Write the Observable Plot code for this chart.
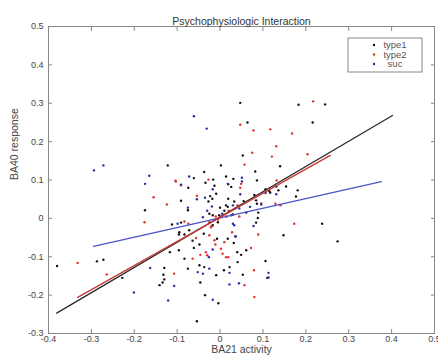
<!DOCTYPE html>
<html>
<head>
<meta charset="utf-8">
<script src="https://cdn.jsdelivr.net/npm/d3@7"></script>
<script src="https://cdn.jsdelivr.net/npm/@observablehq/plot@0.6"></script>
<style>
  html, body { margin: 0; padding: 0; background: #fff; overflow: hidden; }
  #chart svg { display: block; }
</style>
</head>
<body>
<div id="chart"></div>
<script>
// ---------- data ----------
const titleText = "Psychophysiologic Interaction";
const xLabel = "BA21 activity";
const yLabel = "BA40 response";
const xTicks = [-0.4, -0.3, -0.2, -0.1, 0, 0.1, 0.2, 0.3, 0.4, 0.5];
const yTicks = [-0.3, -0.2, -0.1, 0, 0.1, 0.2, 0.3, 0.4, 0.5];
const seriesNames = ["type1", "type2", "suc"];

// type1 (black dots)
const type1 = [
  [-0.380,-0.124],[-0.287,-0.112],[-0.272,-0.108],[-0.228,-0.155],[-0.122,0.138],[-0.037,0.121],
  [0.002,0.138],[-0.061,0.105],[0.047,0.301],[0.014,0.109],[0.031,0.103],[0.183,0.296],
  [0.245,0.297],[0.064,0.250],[0.216,0.250],[0.053,0.164],[0.140,0.136],[0.082,0.122],
  [0.086,0.099],[0.019,0.089],[0.026,0.082],[0.154,0.083],[0.106,0.076],[0.131,0.083],
  [0.136,0.073],[0.115,0.071],[0.181,0.073],[0.177,0.057],[0.080,0.061],[0.117,0.067],
  [0.084,0.047],[0.086,0.038],[0.019,0.051],[0.033,0.044],[0.061,0.015],[0.089,0.015],
  [0.088,0.001],[0.084,-0.011],[0.238,-0.014],[0.148,-0.044],[0.036,-0.047],[0.032,-0.064],
  [0.274,-0.060],[0.061,-0.083],[0.040,-0.088],[0.049,-0.095],[0.106,-0.111],[0.110,-0.155],
  [0.053,-0.147],[-0.175,0.021],[-0.075,0.021],[-0.130,-0.129],[-0.132,-0.147],[-0.130,-0.159],
  [-0.134,-0.167],[-0.141,-0.174],[-0.054,-0.268],[-0.075,-0.131],[-0.046,-0.167],[-0.009,-0.148],
  [-0.035,-0.200],[-0.004,-0.221],[-0.117,-0.088],[-0.096,-0.083],[-0.083,-0.105],[-0.061,-0.077],
  [-0.048,-0.068],[-0.007,-0.053],[0.018,-0.053],[-0.038,-0.040],[-0.064,-0.058],[-0.083,-0.042],
  [-0.072,-0.031],[-0.091,-0.011],[-0.112,-0.016],[-0.017,-0.018],[-0.002,0.008],[-0.017,0.008],
  [-0.025,0.012],[-0.095,-0.036],[-0.096,-0.042],[-0.034,0.093],[-0.016,0.101],[-0.013,0.085],
  [-0.009,0.064],[-0.023,0.058],[-0.027,0.044],[-0.018,0.051],[-0.091,0.046],[-0.074,0.080],
  [0.000,0.028],[0.018,0.030],[0.014,0.034],[-0.048,-0.122],[-0.037,-0.127],[0.009,-0.135],
  [0.022,-0.127],[0.041,-0.114],[0.010,0.020],[0.030,0.010],[-0.005,-0.010],[0.055,0.045]
];

// type2 (red dots)
const type2 = [
  [-0.332,-0.116],[-0.264,-0.146],[-0.104,0.098],[-0.027,0.101],[-0.155,0.055],[-0.054,0.059],
  [-0.124,0.036],[0.047,0.244],[0.217,0.305],[0.078,0.229],[0.117,0.232],[0.168,0.221],
  [0.131,0.188],[0.075,0.171],[0.121,0.161],[0.204,0.167],[0.057,0.140],[0.132,0.099],
  [0.049,0.090],[0.047,0.080],[0.129,0.038],[0.141,0.034],[0.041,0.034],[0.045,0.005],
  [0.173,-0.014],[0.089,-0.042],[0.072,-0.077],[0.057,-0.174],[0.080,-0.205],[0.079,-0.135],
  [0.028,-0.036],[0.014,-0.101],[-0.176,-0.010],[-0.107,-0.144],[-0.074,-0.014],[-0.056,-0.051],
  [-0.025,-0.044],[-0.021,-0.023],[-0.083,-0.008],[-0.025,-0.010],[-0.013,-0.057],[-0.011,-0.068],
  [-0.064,-0.105],[-0.046,-0.095],[-0.033,-0.088],[-0.030,-0.096],[0.002,-0.079],[0.006,-0.092],
  [0.019,-0.101],[0.010,-0.062],[-0.091,0.086],[-0.103,0.096],[-0.005,-0.003],[0.020,0.020],
  [-0.010,0.005],[0.015,0.005],[0.035,0.025],[-0.020,-0.020],[0.096,0.039]
];

// suc (blue dots)
const suc = [
  [-0.294,0.125],[-0.272,0.138],[-0.165,0.111],[-0.061,0.266],[-0.031,0.234],[-0.072,0.109],
  [-0.175,0.090],[-0.091,0.088],[-0.017,0.076],[0.018,0.090],[-0.054,0.050],[-0.035,0.054],
  [-0.019,0.031],[-0.075,0.028],[0.051,0.106],[0.051,0.096],[0.047,0.063],[0.106,0.066],
  [0.131,0.063],[0.096,0.036],[0.030,0.034],[0.026,0.008],[0.030,-0.014],[0.033,-0.018],
  [0.078,-0.020],[0.036,-0.047],[0.113,-0.142],[0.113,-0.154],[0.022,-0.142],[0.022,-0.172],
  [0.044,-0.169],[-0.201,-0.193],[-0.163,-0.129],[-0.107,-0.176],[-0.121,-0.214],[-0.052,-0.140],
  [-0.040,-0.144],[-0.025,-0.131],[-0.017,-0.212],[-0.017,-0.081],[-0.026,-0.101],[-0.040,0.003],
  [-0.099,-0.014],[0.005,0.012],[0.045,0.026],[0.070,0.030],[-0.030,0.020]
];

// fitted regression lines (end points)
const fit1 = [[-0.381,-0.247],[0.402,0.268]];
const fit2 = [[-0.332,-0.206],[0.257,0.164]];
const fitSuc = [[-0.295,-0.073],[0.376,0.096]];

const colors = {type1: "#111111", type2: "#e0302a", suc: "#2a2aa8"};
const lineColors = {type1: "#2b2b2b", type2: "#c83838", suc: "#4a55c8"};

// ---------- chart ----------
const font = "'Liberation Sans', Arial, Helvetica, sans-serif";
const fmt = d => String(+d.toFixed(1));

const dotMark = (data, key) => Plot.dot(data, {x: d => d[0], y: d => d[1], r: 1.2, fill: colors[key], stroke: "none"});
const lineMark = (data, key) => Plot.line(data, {x: d => d[0], y: d => d[1], stroke: lineColors[key], strokeWidth: 1.3});

const chart = Plot.plot({
  width: 438,
  height: 358,
  marginLeft: 48,
  marginRight: 4,
  marginTop: 26,
  marginBottom: 25,
  style: {fontFamily: font, fontSize: "9px", color: "#444", background: "#fff"},
  x: {domain: [-0.4, 0.5]},
  y: {domain: [-0.3, 0.5]},
  marks: [
    Plot.frame({stroke: "#888", strokeWidth: 1}),
    // tick labels
    Plot.axisX(xTicks, {anchor: "bottom", tickSize: 0, tickPadding: 2, tickFormat: fmt, label: null, fill: "#444"}),
    Plot.axisY(yTicks, {anchor: "left", tickSize: 0, tickPadding: 5, tickFormat: fmt, label: null, fill: "#444"}),
    // inward tick marks on all four sides
    Plot.axisX(xTicks, {anchor: "bottom", tickSize: -4, tickFormat: () => "", label: null, stroke: "#888"}),
    Plot.axisX(xTicks, {anchor: "top", tickSize: -4, tickFormat: () => "", label: null, stroke: "#888"}),
    Plot.axisY(yTicks, {anchor: "left", tickSize: -4, tickFormat: () => "", label: null, stroke: "#888"}),
    Plot.axisY(yTicks, {anchor: "right", tickSize: -4, tickFormat: () => "", label: null, stroke: "#888"}),
    // scatter
    dotMark(type1, "type1"),
    dotMark(type2, "type2"),
    dotMark(suc, "suc"),
    // regression lines
    lineMark(fitSuc, "suc"),
    lineMark(fit1, "type1"),
    lineMark(fit2, "type2"),
    // title and axis labels
    Plot.text([titleText], {frameAnchor: "top", dy: -9, fontSize: 10.5, fill: "#333"}),
    Plot.text([xLabel], {frameAnchor: "bottom", dy: 19.5, fontSize: 10.5, fill: "#444"}),
    Plot.text([yLabel], {frameAnchor: "left", dx: -34, rotate: -90, fontSize: 10.5, fill: "#444"})
  ]
});

document.getElementById("chart").appendChild(chart);

// ---------- legend (inside the axes, top-right) ----------
const svg = d3.select(chart);
const lg = svg.append("g").attr("transform", "translate(348,38)").style("font-family", font);
lg.append("rect").attr("width", 74).attr("height", 34).attr("fill", "#fff").attr("stroke", "#888").attr("stroke-width", 1);
seriesNames.forEach((name, i) => {
  const yy = 7 + i * 9.5;
  lg.append("circle").attr("cx", 26).attr("cy", yy).attr("r", 1.2).attr("fill", colors[name]);
  lg.append("text").attr("x", 47).attr("y", yy).attr("dy", "0.35em").attr("font-size", 9.5).attr("fill", "#555").text(name);
});
</script>
</body>
</html>
